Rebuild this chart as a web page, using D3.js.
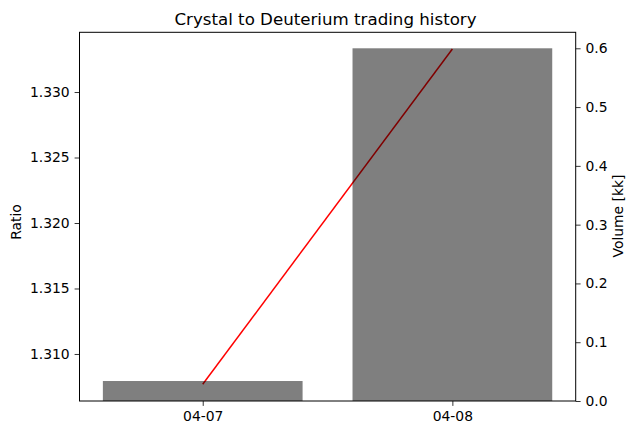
<!DOCTYPE html>
<html><head><meta charset="utf-8">
<script src="https://cdn.jsdelivr.net/npm/d3@7"></script>
<style>body{margin:0;background:#fff}svg{display:block}text{font-family:"DejaVu Sans",sans-serif;fill:#000}</style>
</head><body><svg id="c" width="636" height="435"></svg>
<script>
const categories = ["04-07", "04-08"];
const ratioValues = [1.30769, 1.33328];
const volumeValues = [0.034, 0.6];
const ratioTicks = [1.310, 1.315, 1.320, 1.325, 1.330];
const volumeTicks = [0, 0.1, 0.2, 0.3, 0.4, 0.5, 0.6];

const svg = d3.select("#c");
const L = 79.5, R = 575.7, T = 32.3, B = 401;
const x = d3.scaleLinear().domain([-0.4936, 1.494]).range([L, R]);
const yL = d3.scaleLinear().domain([1.30641, 1.33456]).range([B, T]);
const yR = d3.scaleLinear().domain([0, 0.6272]).range([B, T]);

// line (drawn first, bars on top with alpha)
const line = d3.line().x((d, i) => x(i)).y(d => yL(d));
svg.append("path").datum(ratioValues).attr("d", line)
  .attr("fill", "none").attr("stroke", "#ff0000").attr("stroke-width", 1.5);

svg.selectAll("rect.bar").data(volumeValues).join("rect").attr("class", "bar")
  .attr("x", (d, i) => x(i - 0.4)).attr("width", (d, i) => x(i + 0.4) - x(i - 0.4))
  .attr("y", d => yR(d)).attr("height", d => B - yR(d))
  .attr("fill", "#000").attr("fill-opacity", 0.5);

// frame
svg.append("rect").attr("x", L).attr("y", T).attr("width", R - L).attr("height", B - T)
  .attr("fill", "none").attr("stroke", "#000").attr("stroke-width", 1);

const fs = "13.9px";
// left axis
const gl = svg.append("g").attr("transform", `translate(${L},0)`)
  .call(d3.axisLeft(yL).tickValues(ratioTicks).tickFormat(d3.format(".3f")).tickSize(4.9).tickPadding(4.9));
// right axis
const gr = svg.append("g").attr("transform", `translate(${R},0)`)
  .call(d3.axisRight(yR).tickValues(volumeTicks).tickFormat(d3.format(".1f")).tickSize(4.9).tickPadding(4.9));
// bottom axis
const xb = d3.scaleOrdinal().domain(categories).range(categories.map((c, i) => x(i)));
const gb = svg.append("g").attr("transform", `translate(0,${B})`)
  .call(d3.axisBottom(xb).tickSize(4.9).tickPadding(4.9));
[gl, gr, gb].forEach(g => {
  g.select(".domain").remove();
  g.selectAll("line").attr("stroke", "#000").attr("stroke-width", 0.8);
  g.selectAll("text").attr("font-size", fs).attr("font-family", "DejaVu Sans");
});

svg.append("text").attr("x", 325.5).attr("y", 25).attr("text-anchor", "middle")
  .attr("font-size", "16.67px").text("Crystal to Deuterium trading history");
svg.append("text").attr("transform", "translate(21,222) rotate(-90)").attr("text-anchor", "middle")
  .attr("font-size", fs).text("Ratio");
svg.append("text").attr("transform", "translate(623,216) rotate(-90)").attr("text-anchor", "middle")
  .attr("font-size", fs).text("Volume [kk]");
</script></body></html>
